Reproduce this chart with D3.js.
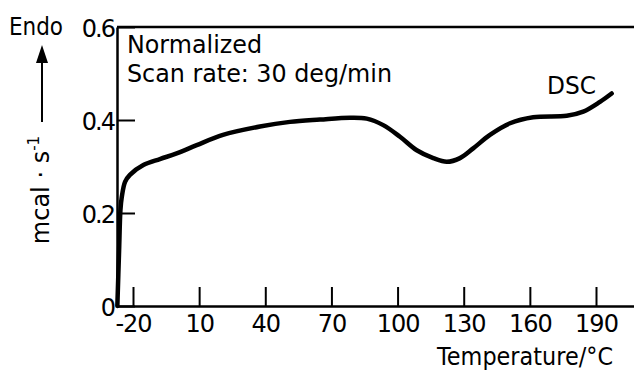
<!DOCTYPE html>
<html>
<head>
<meta charset="utf-8">
<script src="https://d3js.org/d3.v7.min.js"></script>
<style>
  body { margin: 0; background: #fff; }
  svg text { font-family: "DejaVu Sans", sans-serif; fill: #000; }
</style>
</head>
<body>
<svg width="634" height="371"></svg>
<script>
// DSC trace
const temps  = [-27.1, -26.3, -25.7, -25.1, -23.6, -21.4, -15.3, -7.8, -0.2, 8.9, 20.8, 37.6, 51.2, 64.8, 78.4, 86.0, 93.5, 101.1, 108.7, 116.2, 122.3, 128.3, 134.3, 141.9, 151.0, 161.5, 176.7, 184.2, 191.8, 197.1];
const values = [0, 0.12, 0.206, 0.234, 0.267, 0.282, 0.303, 0.316, 0.328, 0.346, 0.368, 0.386, 0.396, 0.401, 0.405, 0.403, 0.389, 0.364, 0.335, 0.318, 0.310, 0.318, 0.339, 0.368, 0.393, 0.406, 0.409, 0.418, 0.439, 0.457];

const xTicks = [-20, 10, 40, 70, 100, 130, 160, 190];
const yTicks = [0, 0.2, 0.4, 0.6];

const svg = d3.select("svg");

// -20 sits at 133px, 190 at 596px; axis runs 117..634
const pxPerDeg = (596 - 133) / 210;
const x = d3.scaleLinear()
    .domain([-20 - 16 / pxPerDeg, 190 + 38 / pxPerDeg])
    .range([117, 634]);
const y = d3.scaleLinear().domain([0, 0.6]).range([306, 27]);

// bottom axis, ticks pointing up
const xAxis = svg.append("g")
    .attr("transform", "translate(0," + y(0) + ")")
    .call(d3.axisBottom(x).tickValues(xTicks).tickSizeInner(-19).tickSizeOuter(0)
        .tickPadding(9).tickFormat(d => String(d)));
xAxis.select(".domain").attr("stroke-width", 2.5);
xAxis.selectAll(".tick line").attr("stroke-width", 2);
xAxis.selectAll("text").attr("font-size", 24).attr("font-family", "DejaVu Sans")
    .attr("letter-spacing", -1).attr("dy", "0.72em");

// left axis, ticks pointing in
const yAxis = svg.append("g")
    .attr("transform", "translate(" + x.range()[0] + ",0)")
    .call(d3.axisLeft(y).tickValues(yTicks).tickSizeInner(-18).tickSizeOuter(0)
        .tickPadding(3).tickFormat(d => d === 0 ? "0" : d.toFixed(1)));
yAxis.select(".domain").attr("stroke-width", 2.5);
yAxis.selectAll(".tick line").attr("stroke-width", 2);
yAxis.selectAll("text").attr("font-size", 24).attr("font-family", "DejaVu Sans")
    .attr("letter-spacing", -2).attr("dy", "0.4em");

// top frame line
svg.append("line")
    .attr("x1", x.range()[0]).attr("x2", x.range()[1])
    .attr("y1", y(0.6)).attr("y2", y(0.6))
    .attr("stroke", "#000").attr("stroke-width", 2.5);

// the curve
const line = d3.line()
    .x((d, i) => x(temps[i]))
    .y(d => y(d))
    .curve(d3.curveCatmullRom.alpha(0.5));
svg.append("path")
    .datum(values)
    .attr("d", line)
    .attr("fill", "none")
    .attr("stroke", "#000")
    .attr("stroke-width", 4.5)
    .attr("stroke-linejoin", "round")
    .attr("stroke-linecap", "round");

// labels
svg.append("text").attr("x", 127).attr("y", 53).attr("font-size", 24)
    .attr("textLength", 135).attr("lengthAdjust", "spacingAndGlyphs").text("Normalized");
svg.append("text").attr("x", 127).attr("y", 82).attr("font-size", 24)
    .attr("textLength", 265).attr("lengthAdjust", "spacingAndGlyphs").text("Scan rate: 30 deg/min");
svg.append("text").attr("x", 547).attr("y", 94).attr("font-size", 24)
    .attr("textLength", 49).attr("lengthAdjust", "spacingAndGlyphs").text("DSC");
svg.append("text").attr("x", 437).attr("y", 365).attr("font-size", 24)
    .attr("textLength", 176).attr("lengthAdjust", "spacingAndGlyphs").text("Temperature/°C");
svg.append("text").attr("x", 9).attr("y", 35).attr("font-size", 24)
    .attr("textLength", 54).attr("lengthAdjust", "spacingAndGlyphs").text("Endo");

// y label with arrow
const yl = svg.append("text")
    .attr("transform", "translate(49,190) rotate(-90)")
    .attr("text-anchor", "middle")
    .attr("font-size", 24);
yl.append("tspan").text("mcal · s");
yl.append("tspan").attr("font-size", 15).attr("dy", -10).text("-1");

svg.append("line")
    .attr("x1", 42).attr("x2", 42).attr("y1", 122).attr("y2", 60)
    .attr("stroke", "#000").attr("stroke-width", 2);
svg.append("path")
    .attr("d", "M42,45 L36,63 L48,63 Z")
    .attr("fill", "#000");
</script>
</body>
</html>
